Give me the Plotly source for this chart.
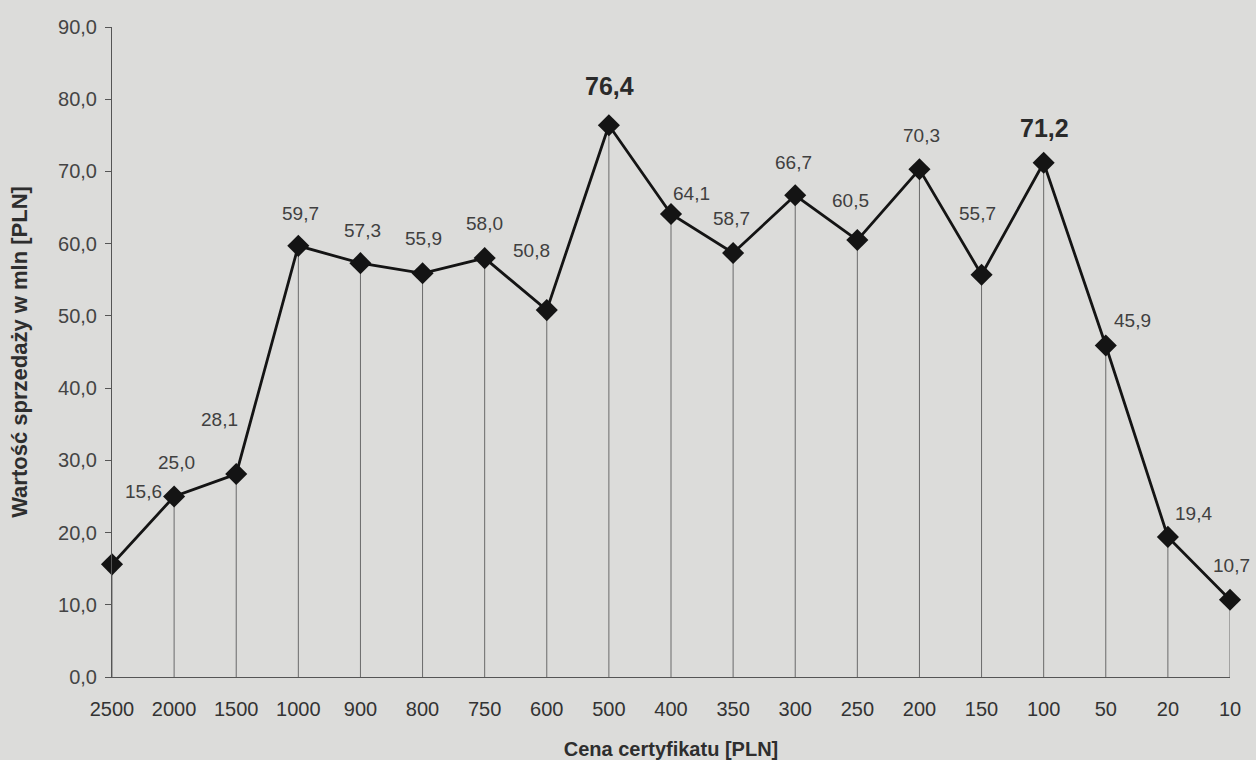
import plotly.graph_objects as go

categories = ["2500", "2000", "1500", "1000", "900", "800", "750", "600", "500", "400",
              "350", "300", "250", "200", "150", "100", "50", "20", "10"]
values = [15.6, 25.0, 28.1, 59.7, 57.3, 55.9, 58.0, 50.8, 76.4, 64.1,
          58.7, 66.7, 60.5, 70.3, 55.7, 71.2, 45.9, 19.4, 10.7]
highlight = ["76,4", "71,2"]
y_ticks = [0, 10, 20, 30, 40, 50, 60, 70, 80, 90]

# label pixel offsets (styling)
label_dx = [31, 2, -17, 2, 2, 1, 0, -15, 1, 20, -2, -2, -7, 2, -4, 1, 27, 26, 1]
label_dy = [73, 34, 55, 32, 33, 35, 35, 60, 39, 21, 35, 33, 40, 34, 61, 35, 25, 23, 34]

xs = list(range(len(categories)))
FONT = "Liberation Sans, Arial, sans-serif"
BG = "#dcdcda"

drop_x, drop_y = [], []
for x, v in zip(xs, values):
    drop_x += [x, x, None]
    drop_y += [-1.1, v, None]

fig = go.Figure()
fig.add_trace(go.Scatter(x=drop_x, y=drop_y, mode="lines",
                         line=dict(color="#6a6a6a", width=1), hoverinfo="skip",
                         cliponaxis=False, showlegend=False))
fig.add_trace(go.Scatter(x=xs, y=values, mode="lines+markers",
                         line=dict(color="#141414", width=2.8),
                         marker=dict(symbol="diamond", size=17, color="#141414"),
                         cliponaxis=False, showlegend=False))

for x, v, dx, dy in zip(xs, values, label_dx, label_dy):
    txt = f"{v:.1f}".replace(".", ",")
    bold = txt in highlight
    fig.add_annotation(x=x, y=v, xref="x", yref="y", showarrow=False,
                       text=f"<b>{txt}</b>" if bold else txt,
                       xshift=dx, yshift=dy,
                       font=dict(family=FONT, size=25 if bold else 19,
                                 color="#2a2a2a" if bold else "#404040"))

fig.update_layout(
    width=1256, height=760,
    paper_bgcolor=BG, plot_bgcolor=BG,
    margin=dict(l=112, r=26, t=27, b=83),
    separators=", ",
    font=dict(family=FONT, size=19, color="#3a3a3a"),
    xaxis=dict(range=[0, len(categories) - 1], tickvals=xs, ticktext=categories,
               showgrid=False, zeroline=False, showline=True, linecolor="#555555",
               linewidth=1, ticks="", ticklabelstandoff=14, automargin=False,
               tickfont=dict(size=20, color="#333333"),
               title=dict(text="<b>Cena certyfikatu [PLN]</b>", standoff=24,
                          font=dict(size=20, color="#2e2e2e"))),
    yaxis=dict(range=[0, 90], tickvals=y_ticks, tickformat=".1f",
               showgrid=False, zeroline=False, showline=True, linecolor="#555555",
               linewidth=1, ticks="outside", ticklen=6, tickcolor="#555555",
               ticklabelstandoff=4, automargin=False,
               tickfont=dict(size=20, color="#444444"),
               title=dict(text="<b>Wartość sprzedaży w mln [PLN]</b>", standoff=24,
                          font=dict(size=22, color="#2e2e2e"))),
)

fig.write_html("out.html", config={"displayModeBar": False},
               post_script="document.body.style.margin='0';"
                           "document.body.style.background='%s';" % BG)
